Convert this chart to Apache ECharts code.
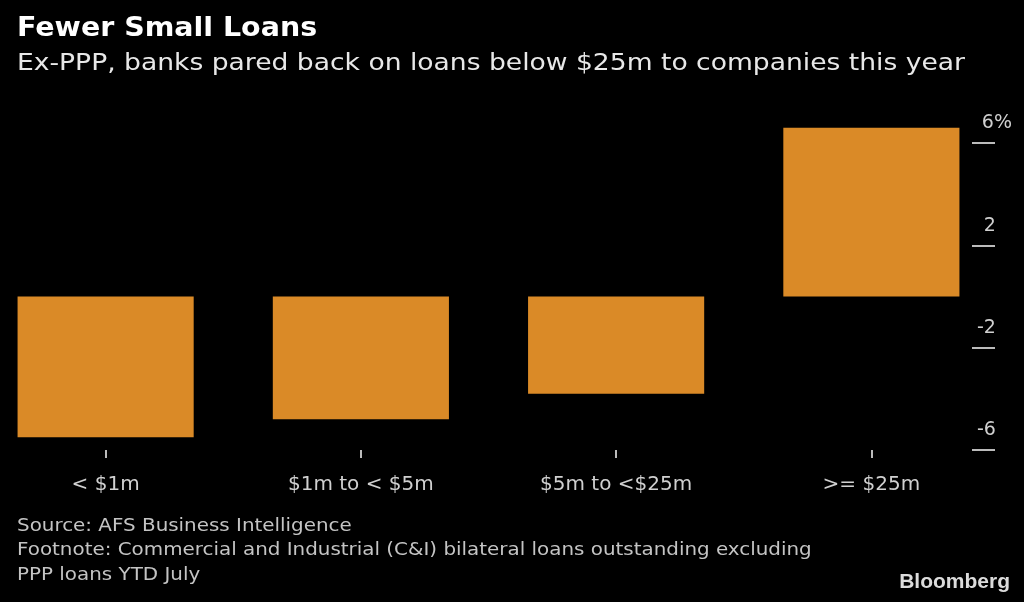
<!DOCTYPE html>
<html lang="en">
<head>
    <meta charset="UTF-8">
    <title>Fewer Small Loans</title>
    <script src="https://cdn.jsdelivr.net/npm/echarts@6/dist/echarts.min.js"></script>
    <style>
        html, body { margin: 0; padding: 0; background: #000; overflow: hidden; }
    </style>
</head>
<body>
    <div id="myChart" style="width: 1024px;height: 602px;"></div>
    <script>
        // loan size buckets and change in loans outstanding, %
        var categories = ['< $1m', '$1m to < $5m', '$5m to <$25m', '>= $25m'];
        var changes = [-5.5, -4.8, -3.8, 6.6];
        var yTicks = [-6, -2, 2, 6];

        var myChart = echarts.init(document.getElementById('myChart'));
        var font = 'DejaVu Sans';
        var option = {
            backgroundColor: '#000',
            // the original is drawn a bit wide, so the texts get a small horizontal stretch
            graphic: [{
                type: 'text', x: 17, y: 16, scaleX: 1.095,
                style: { text: 'Fewer Small Loans', fill: '#fff', font: 'bold 26px "DejaVu Sans"', verticalAlign: 'top' }
            }, {
                type: 'text', x: 17, y: 53, scaleX: 1.155,
                style: { text: 'Ex-PPP, banks pared back on loans below $25m to companies this year', fill: '#e8e8e8', font: '23px "DejaVu Sans"', verticalAlign: 'top' }
            }, {
                type: 'text', x: 17, y: 514, scaleX: 1.17,
                style: {
                    text: 'Source: AFS Business Intelligence\nFootnote: Commercial and Industrial (C&I) bilateral loans outstanding excluding\nPPP loans YTD July',
                    fill: '#c4c4c4', font: '17px "DejaVu Sans"', lineHeight: 24.5, verticalAlign: 'top'
                }
            }, {
                type: 'text', x: 1010, y: 572,
                style: { text: 'Bloomberg', fill: '#dcdcdc', font: 'bold 21px "Liberation Sans"', align: 'right', verticalAlign: 'top' }
            }],
            grid: { left: -22, right: 25, top: 143, bottom: 152, outerBoundsMode: 'none' },
            xAxis: {
                type: 'category',
                data: categories,
                axisLine: { show: false, onZero: false },
                axisTick: { show: true, alignWithLabel: true, length: 8, lineStyle: { color: '#bbb', width: 2 } },
                axisLabel: { color: '#d0d0d0', fontSize: 20, fontFamily: font, margin: 25 }
            },
            yAxis: {
                type: 'value',
                position: 'right',
                offset: -27,
                min: yTicks[0],
                max: yTicks[yTicks.length - 1],
                interval: 4,
                splitLine: { show: false },
                axisLine: { show: false },
                axisTick: { show: true, length: 23, lineStyle: { color: '#bbb', width: 2 } },
                axisLabel: {
                    color: '#d0d0d0', fontSize: 19, fontFamily: font,
                    align: 'right', verticalAlign: 'bottom', margin: 40,
                    padding: [0, 0, 10, 0],
                    formatter: function (v) {
                        return v === yTicks[yTicks.length - 1] ? v + '%' : v + '{h|%}';
                    },
                    rich: { h: { color: 'transparent', fontSize: 17, fontFamily: font } }
                }
            },
            series: [{
                type: 'bar',
                data: changes,
                barWidth: '69%',
                clip: false,
                itemStyle: { color: '#da8a27' }
            }]
        };

        myChart.setOption(option);
    </script>
</body>
</html>
